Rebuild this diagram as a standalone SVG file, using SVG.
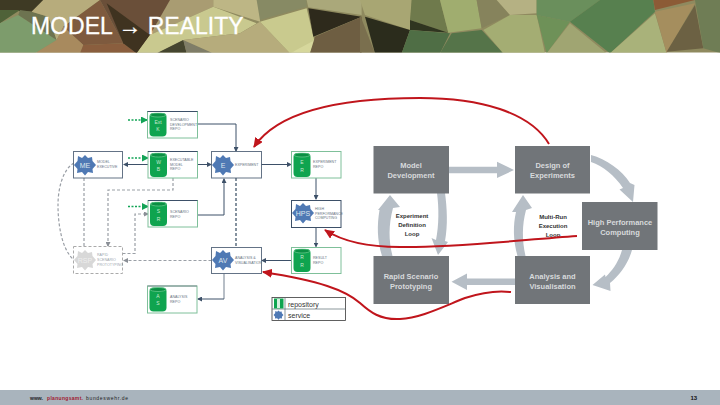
<svg xmlns="http://www.w3.org/2000/svg" width="720" height="405" viewBox="0 0 720 405">
<defs>
<style>
.t{font-family:"Liberation Sans",Arial,sans-serif}
.nl{font-family:"Liberation Sans",Arial,sans-serif;font-size:3.6px;fill:#66727f}
.cl{font-family:"Liberation Sans",Arial,sans-serif;font-size:5px;fill:#c8e8d0;text-anchor:middle}
.gl{font-family:"Liberation Sans",Arial,sans-serif;font-size:7px;fill:#dfe6ee;text-anchor:middle}
.bx{fill:#fff;stroke:#3d5068;stroke-width:1}
.gb{fill:#fff;stroke:#7fc09a;stroke-width:1}
.cy{fill:#0fa44f}
.cyt{fill:#0b8f43;stroke:#7fd6a0;stroke-width:.6}
.g{fill:#4f79b4}
.c{fill:none;stroke:#3d5068;stroke-width:1}
.d{fill:none;stroke:#9a9fa6;stroke-width:1.200;stroke-dasharray:3 2}
.gd{fill:none;stroke:#12a456;stroke-width:1.600;stroke-dasharray:2 1.500}
.dk{fill:#717579}
.big{font-family:"Liberation Sans",Arial,sans-serif;font-size:7.500px;font-weight:bold;fill:#d8dadc;text-anchor:middle}
.lp{font-family:"Liberation Sans",Arial,sans-serif;font-size:6px;font-weight:bold;fill:#333;text-anchor:middle}
.arr{fill:#b6bec6}
.red{fill:none;stroke:#c0151c;stroke-width:2}
</style>
<marker id="a" markerWidth="5" markerHeight="5" refX="4" refY="2.500" orient="auto" markerUnits="userSpaceOnUse"><path d="M0 0L5 2.500L0 5z" fill="#3d5068"/></marker>
<marker id="ag" markerWidth="7" markerHeight="7" refX="6" refY="3.500" orient="auto" markerUnits="userSpaceOnUse"><path d="M0 0L7 3.500L0 7z" fill="#12a456"/></marker>
<marker id="ad" markerWidth="5" markerHeight="5" refX="4" refY="2.500" orient="auto" markerUnits="userSpaceOnUse"><path d="M0 0L5 2.500L0 5z" fill="#8a8f96"/></marker>
<marker id="r" markerWidth="11" markerHeight="9" refX="9" refY="4.500" orient="auto" markerUnits="userSpaceOnUse"><path d="M0 0L10 4.500L0 9z" fill="#c0151c"/></marker>
<polygon id="gear" points="0,-10 3,-7 7,-8 7.500,-4 11,0 7.500,4 8,8 3,7 0,10.500 -3,7 -8,8 -7.500,4 -11,0 -7.500,-4 -7,-9 -3,-7"/>
<clipPath id="bc"><rect width="720" height="52.500"/></clipPath>
</defs>
<rect width="720" height="405" fill="#fff"/>
<g id="banner" clip-path="url(#bc)">
<rect width="720" height="53" fill="#8f8a5f"/>
<g transform="scale(.3333)">
<polygon points="0,0 130,0 95,35 0,30" fill="#3e3a24"/>
<polygon points="0,30 60,30 0,70" fill="#4f6238"/>
<polygon points="0,70 55,45 170,120 105,160 0,160" fill="#7d9c6c"/>
<polygon points="60,30 95,35 145,50 170,120 55,45" fill="#6d7350"/>
<polygon points="130,0 300,0 190,80 170,120 145,50 95,35" fill="#b7ac7c"/>
<polygon points="190,80 300,0 370,130 250,135" fill="#7e5a3e"/>
<polygon points="170,120 190,80 250,135 240,160 105,160" fill="#a88a5e"/>
<polygon points="250,135 370,130 410,160 240,160" fill="#8a5e3e"/>
<polygon points="300,0 520,0 450,105 410,160 370,130" fill="#6a4f39"/>
<polygon points="320,10 450,105 410,160 370,130" fill="#3f3320"/>
<polygon points="510,0 640,0 640,20 450,105" fill="#a99c72"/>
<polygon points="450,105 640,20 770,70 720,100 550,120 470,160 410,160" fill="#c9c98f"/>
<polygon points="470,160 550,120 560,160" fill="#45452f"/>
<polygon points="550,120 640,160 560,160" fill="#7f7d68"/>
<polygon points="550,120 720,100 780,65 870,160 640,160" fill="#b6ac7c"/>
<polygon points="640,0 780,0 780,65 640,20" fill="#bdb685"/>
<polygon points="770,0 920,0 920,20 780,60" fill="#878a64"/>
<polygon points="780,65 920,25 945,130 870,160" fill="#c9ca8e"/>
<polygon points="870,160 945,120 930,160" fill="#d6d79c"/>
<polygon points="925,25 1085,50 940,110" fill="#2e2a1c"/>
<polygon points="920,0 1085,0 1085,45 925,22" fill="#aaa87a"/>
<polygon points="945,110 1085,50 1085,160 930,160" fill="#6e5e42"/>
</g>
<g transform="translate(360) scale(.3333)">
<polygon points="0,0 155,0 150,90 15,45" fill="#a8a673"/>
<polygon points="0,45 45,160 0,160" fill="#7a6f4e"/>
<polygon points="15,50 150,90 125,160 45,160" fill="#2b2c1c"/>
<polygon points="155,0 240,0 265,98 150,60" fill="#6f7a4c"/>
<polygon points="150,60 265,98 150,90" fill="#2f3520"/>
<polygon points="150,90 270,100 240,160 125,160" fill="#4f6e45"/>
<polygon points="240,0 350,0 365,85 265,98" fill="#a0ad6f"/>
<polygon points="350,0 410,0 450,45 365,85" fill="#86835c"/>
<polygon points="410,0 530,0 530,40 450,45" fill="#b5b183"/>
<polygon points="275,100 365,90 430,160 240,160" fill="#557449"/>
<polygon points="370,90 450,45 530,45 555,160 430,160" fill="#a4ad73"/>
<polygon points="530,45 630,65 560,160" fill="#6e9158"/>
<polygon points="530,0 720,0 630,65 530,45" fill="#6a8f5c"/>
<polygon points="560,160 630,70 740,160" fill="#a0a572"/>
<polygon points="630,65 720,0 880,0 885,35 750,160" fill="#57804f"/>
<polygon points="750,160 885,40 920,160" fill="#a9b27a"/>
<polygon points="885,35 1005,10 920,160" fill="#a58e5e"/>
<polygon points="1005,15 1030,145 920,155" fill="#6c6143"/>
<polygon points="880,0 1005,0 885,30" fill="#8c5b36"/>
<polygon points="1005,0 1085,0 1085,160 1030,145" fill="#6f7d55"/>
</g>
</g>
<text id="title" x="31" y="34" class="t" font-size="23" fill="#fff" stroke="#fff" stroke-width=".3">MODEL → REALITY</text>
<g id="connectors">
<path class="c" d="M197.500 124H236V151" marker-end="url(#a)"/>
<path class="c" d="M197.500 164.500H211" marker-end="url(#a)"/>
<path class="c" d="M148 164.500H124" marker-end="url(#a)"/>
<path class="c" d="M197.500 215H224V179" marker-end="url(#a)"/>
<path class="c" d="M262 164.500H291" marker-start="url(#a)" marker-end="url(#a)"/>
<path class="c" d="M316 178V199" marker-end="url(#a)"/>
<path class="c" d="M316 227V246.500" marker-end="url(#a)"/>
<path class="c" d="M291.500 260.500H262" marker-end="url(#a)"/>
<path fill="none" stroke="#a0aab4" stroke-width="1.500" d="M224 273.500V299"/>
<path class="c" d="M224 299H198" marker-end="url(#a)"/>
<path fill="none" stroke="#5d6f80" stroke-width="1.500" stroke-dasharray="3 2" d="M236 178V247.500"/>
<path class="d" d="M173 178V190H108V246" marker-end="url(#ad)"/>
<path class="d" d="M84 178V246.500"/>
<path class="d" d="M122.500 253.500H135V214H148" marker-end="url(#ad)"/>
<path class="d" d="M211.500 260.500H124" marker-end="url(#ad)"/>
<path class="d" d="M74 163C62 170 58 190 58 205C58 225 62 250 74 260"/>
<path class="gd" d="M128 120H147" marker-end="url(#ag)"/>
<path class="gd" d="M128 158H148" marker-end="url(#ag)"/>
<path class="gd" d="M128 206.500H148" marker-end="url(#ag)"/>
</g>
<g id="node-top"><rect class="gb" x="147.500" y="111.500" width="50" height="26.500"/><path d="M147.500 111.500H197.500" stroke="#3d5068"/><rect class="cy" x="149.500" y="113" width="17" height="23.500" rx="4"/><ellipse class="cyt" cx="158" cy="115" rx="8" ry="2"/><text class="cl" x="158" y="124">Ext</text><text class="cl" x="158" y="131">K</text><text class="nl"><tspan x="170" y="121">SCENARIO</tspan><tspan x="170" y="125.500">DEVELOPMENT</tspan><tspan x="170" y="130">REPO</tspan></text></g>
<g id="node-wb"><rect class="gb" x="148" y="151.500" width="49.500" height="26.500"/><path d="M148 151.500H197.500" stroke="#3d5068"/><rect class="cy" x="150" y="153" width="17" height="24" rx="4"/><ellipse class="cyt" cx="158.500" cy="155" rx="8" ry="2"/><text class="cl" x="158.500" y="164">W</text><text class="cl" x="158.500" y="171">B</text><text class="nl"><tspan x="170" y="161">EXECUTABLE</tspan><tspan x="170" y="165.500">MODEL</tspan><tspan x="170" y="170">REPO</tspan></text></g>
<g id="node-me"><rect class="bx" stroke-opacity=".8" x="73.500" y="151.500" width="49" height="26.500"/><use href="#gear" class="g" transform="translate(85 165)"/><text class="gl" x="85" y="167.500">ME</text><text class="nl"><tspan x="97" y="163">MODEL</tspan><tspan x="97" y="167.500">EXECUTIVE</tspan></text></g>
<g id="node-sr"><rect class="gb" x="148" y="200.500" width="49.500" height="26.500"/><path d="M148 200.500H197.500" stroke="#3d5068"/><rect class="cy" x="150" y="202" width="17" height="24" rx="4"/><ellipse class="cyt" cx="158.500" cy="204" rx="8" ry="2"/><text class="cl" x="158.500" y="213">S</text><text class="cl" x="158.500" y="221">R</text><text class="nl"><tspan x="170" y="213">SCENARIO</tspan><tspan x="170" y="217.500">REPO</tspan></text></g>
<g id="node-rapid"><rect x="73.500" y="246.500" width="49" height="27" fill="#fff" stroke="#aaa" stroke-dasharray="3 2"/><use href="#gear" fill="#d8d8d8" transform="translate(85 260)"/><text class="gl" style="fill:#eee" x="85" y="262.500">RSP</text><text class="nl" fill-opacity=".7"><tspan x="97" y="256">RAPID</tspan><tspan x="97" y="261">SCENARIO</tspan><tspan x="97" y="266">PROTOTYPING</tspan></text></g>
<g id="node-as"><rect class="gb" x="147.500" y="286" width="49.500" height="27"/><path d="M147.500 286H197" stroke="#7a8a90"/><rect class="cy" x="149.500" y="287.500" width="17" height="24" rx="4"/><ellipse class="cyt" cx="158" cy="289.500" rx="8" ry="2"/><text class="cl" x="158" y="298">A</text><text class="cl" x="158" y="305">S</text><text class="nl"><tspan x="170" y="298">ANALYSIS</tspan><tspan x="170" y="302.500">REPO</tspan></text></g>
<g id="node-e"><rect class="bx" stroke-opacity=".8" x="211.500" y="151.500" width="50" height="26.500"/><use href="#gear" class="g" transform="translate(223 165)"/><text class="gl" x="223" y="167.500">E</text><text class="nl" x="235" y="165.500">EXPERIMENT</text></g>
<g id="node-er"><rect class="gb" stroke-width="1.300" x="291.500" y="151.500" width="49.500" height="26.500"/><rect class="cy" x="293.500" y="153" width="17" height="24" rx="4"/><ellipse class="cyt" cx="302" cy="155" rx="8" ry="2"/><text class="cl" x="302" y="164">E</text><text class="cl" x="302" y="171.500">R</text><text class="nl"><tspan x="313" y="163">EXPERIMENT</tspan><tspan x="313" y="167.500">REPO</tspan></text></g>
<g id="node-hpc"><rect class="bx" x="291.500" y="200.500" width="49.500" height="27"/><use href="#gear" class="g" transform="translate(303 213)"/><text class="gl" x="303" y="215.500">HPS</text><text class="nl"><tspan x="315" y="210">HIGH</tspan><tspan x="315" y="214.500">PERFORMANCE</tspan><tspan x="315" y="219">COMPUTING</tspan></text></g>
<g id="node-av"><rect class="bx" stroke-opacity=".8" x="211.500" y="247.500" width="50" height="26"/><use href="#gear" class="g" transform="translate(223 260)"/><text class="gl" x="223" y="262.500">AV</text><text class="nl"><tspan x="235" y="259">ANALYSIS &amp;</tspan><tspan x="235" y="263.500">VISUALISATION</tspan></text></g>
<g id="node-rr"><rect class="gb" stroke-width="1.300" x="291.500" y="247.500" width="49.500" height="26"/><rect class="cy" x="293.500" y="249" width="17" height="23" rx="4"/><ellipse class="cyt" cx="302" cy="251" rx="8" ry="2"/><text class="cl" x="302" y="259">R</text><text class="cl" x="302" y="267">R</text><text class="nl"><tspan x="313" y="259">RESULT</tspan><tspan x="313" y="263.500">REPO</tspan></text></g>
<g id="legend"><rect x="272" y="297.500" width="73.500" height="23" fill="#fff" stroke="#3a3a3a" stroke-width=".8"/><path d="M272 309H345.500M285 297.500V320.500" stroke="#5a6a70" stroke-width=".7"/><rect x="274" y="298.500" width="9.500" height="10" fill="#0fa44f"/><rect x="277" y="299" width="3" height="9" fill="#d5f0de"/><use href="#gear" class="g" transform="translate(278.500 315) scale(.45)"/><text class="t" font-size="7" fill="#333" x="288" y="306.500">repository</text><text class="t" font-size="7" fill="#333" x="288" y="318">service</text></g>
<g id="loop-arrows">
<path class="arr" d="M449 166.700H497V161.700L514 170L497 178V173.300H449z"/>
<path class="arr" d="M515 278.500H467V273.500L451.500 281.700L467 290V285H515z"/>
<path class="arr" d="M591 155C606 159 622 170 630 183L634.500 185L633 202L619.500 189.500L623 188C615 176 603 166 591 162z"/>
<path class="arr" d="M632 250C628 264 620 275 610 283L610.500 291L592.500 285L605 274.500L605.500 277C613 270 619 261 622 250z"/>
<path class="arr" d="M382 256C377 240 377 225 379.500 210L378 210L390 195L400 207L393 208C388.500 225 388.500 240 392.500 256z"/>
<path class="arr" d="M445 193C447 208 448 225 445 241L448 242L438 255L431.500 238L436 240C439 225 439 208 437 193z"/>
<path class="arr" d="M517.500 256C513 240 513 225 516 212L512 212L523 195L532 208L526 210C522 225 522 240 525.500 256z"/>
</g>
<g id="node-model"><rect class="dk" x="373.500" y="146" width="75.500" height="47.500"/><text class="big"><tspan x="411" y="168">Model</tspan><tspan x="411" y="178">Development</tspan></text></g>
<g id="node-doe"><rect class="dk" x="515" y="146" width="75" height="47.500"/><text class="big"><tspan x="552.500" y="168">Design of</tspan><tspan x="552.500" y="178">Experiments</tspan></text></g>
<g id="node-perf"><rect class="dk" x="582" y="202" width="75.500" height="48"/><text class="big"><tspan x="620" y="224.500">High Performance</tspan><tspan x="620" y="234.500">Computing</tspan></text></g>
<g id="node-proto"><rect class="dk" x="373.500" y="256" width="75.500" height="48"/><text class="big"><tspan x="411" y="278.500">Rapid Scenario</tspan><tspan x="411" y="288.500">Prototyping</tspan></text></g>
<g id="node-vis"><rect class="dk" x="515" y="256" width="75" height="48"/><text class="big"><tspan x="552.500" y="278.500">Analysis and</tspan><tspan x="552.500" y="288.500">Visualisation</tspan></text></g>
<text class="lp"><tspan x="412" y="218">Experiment</tspan><tspan x="412" y="227">Definition</tspan><tspan x="412" y="236">Loop</tspan></text>
<text class="lp"><tspan x="553" y="219">Multi-Run</tspan><tspan x="553" y="228">Execution</tspan><tspan x="553" y="237">Loop</tspan></text>
<g id="red-arrows">
<path class="red" d="M549 144C530 112 480 98 420 98C350 98 280 108 254 147" marker-end="url(#r)"/>
<path class="red" d="M577 236C520 240 450 248 400 247C370 247 345 243 325 230" marker-end="url(#r)"/>
<path class="red" d="M511 292C495 290 480 293 465 298C440 308 420 318 400 319C380 320 370 312 360 303C345 290 320 281 263 272" marker-end="url(#r)"/>
</g>
<g id="footer"><rect y="390" width="720" height="15" fill="#a9b4bd"/><text class="t" font-size="5" font-weight="bold" fill="#222" x="30" y="399.500" textLength="13">www.</text><text class="t" font-size="5" font-weight="bold" fill="#a01830" x="47" y="399.500" textLength="36">planungsamt.</text><text class="t" font-size="5" fill="#222" x="86" y="399.500" textLength="42">bundeswehr.de</text><text class="t" font-size="6" font-weight="bold" fill="#111" x="690.500" y="399.500">13</text></g>
</svg>
